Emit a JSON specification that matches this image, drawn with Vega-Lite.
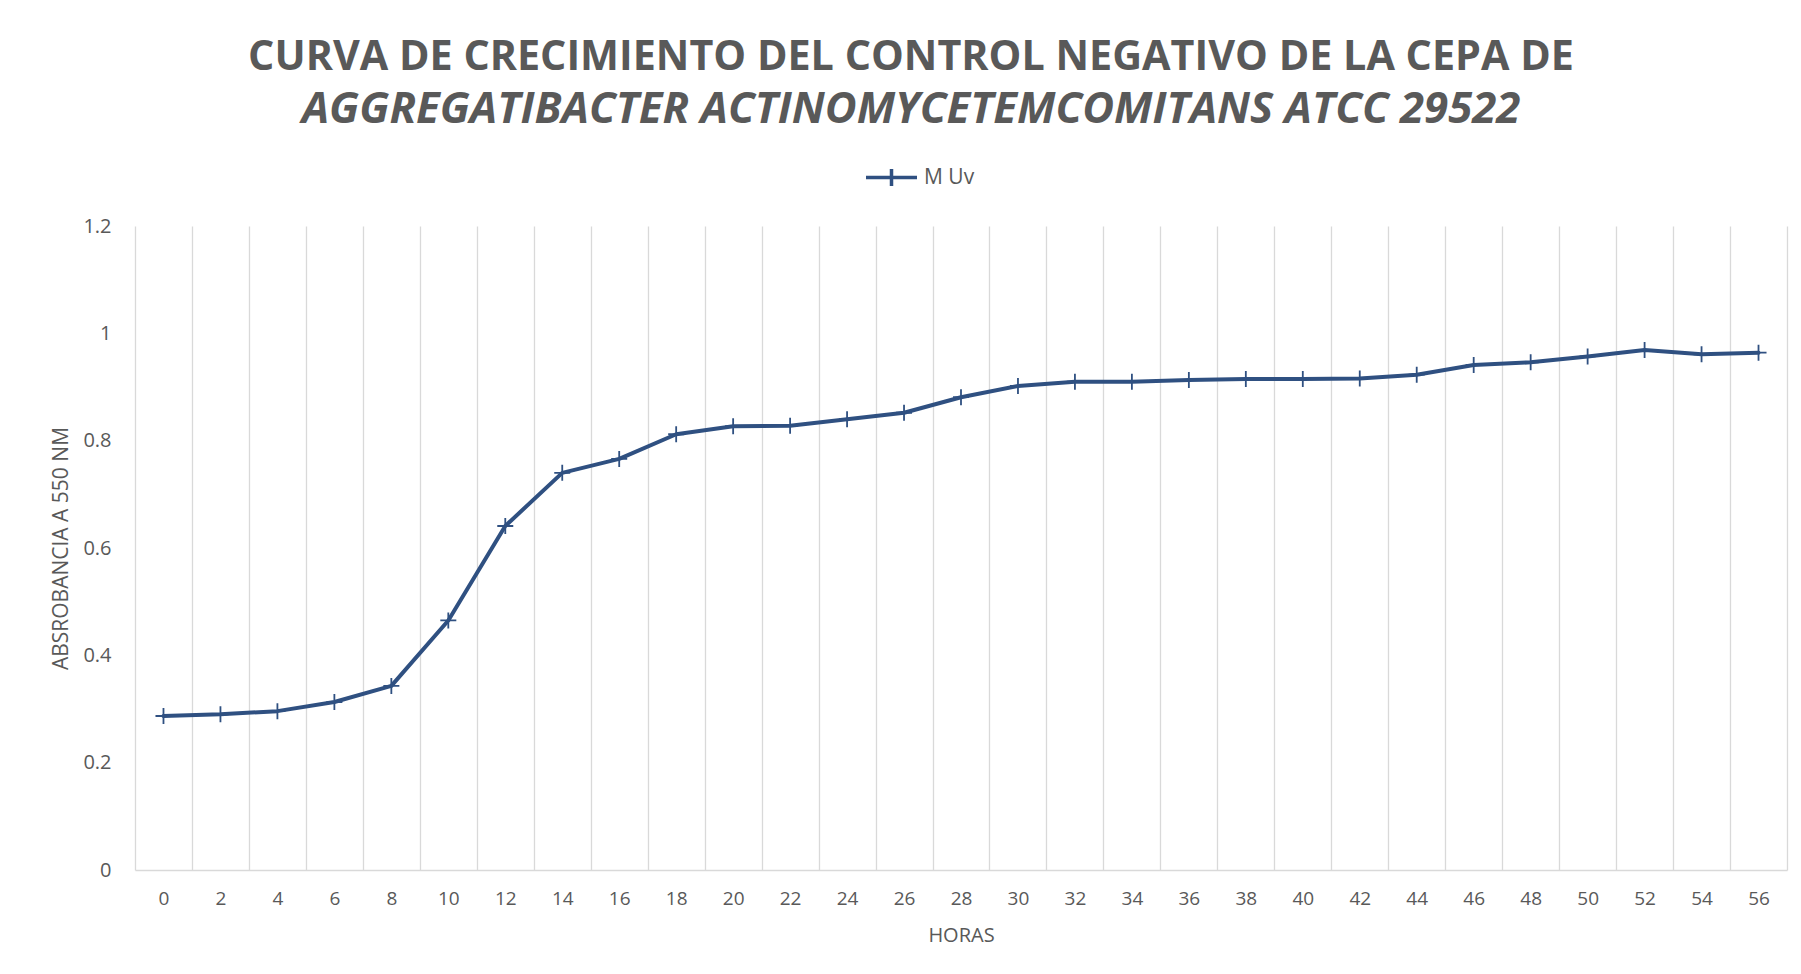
{
  "$schema": "https://vega.github.io/schema/vega-lite/v6.json",
  "width": 1652,
  "height": 644,
  "autosize": {"type": "none"},
  "padding": {"left": 135, "top": 226, "right": 14, "bottom": 104},
  "background": "white",
  "title": {
    "text": "CURVA DE CRECIMIENTO DEL CONTROL NEGATIVO DE LA CEPA DE",
    "subtitle": "AGGREGATIBACTER ACTINOMYCETEMCOMITANS ATCC 29522",
    "font": "Open Sans",
    "fontSize": 41.3,
    "fontWeight": "bold",
    "color": "#595959",
    "subtitleFont": "Open Sans",
    "subtitleFontSize": 43.7,
    "subtitleFontWeight": "bold",
    "subtitleFontStyle": "italic",
    "subtitleColor": "#595959",
    "subtitlePadding": 10,
    "anchor": "middle",
    "frame": "group",
    "offset": 18,
    "dx": -50
  },
  "data": {
    "values": [
      {"horas": 0, "abs": 0.287, "serie": "M Uv"},
      {"horas": 2, "abs": 0.290, "serie": "M Uv"},
      {"horas": 4, "abs": 0.296, "serie": "M Uv"},
      {"horas": 6, "abs": 0.313, "serie": "M Uv"},
      {"horas": 8, "abs": 0.343, "serie": "M Uv"},
      {"horas": 10, "abs": 0.465, "serie": "M Uv"},
      {"horas": 12, "abs": 0.641, "serie": "M Uv"},
      {"horas": 14, "abs": 0.740, "serie": "M Uv"},
      {"horas": 16, "abs": 0.766, "serie": "M Uv"},
      {"horas": 18, "abs": 0.812, "serie": "M Uv"},
      {"horas": 20, "abs": 0.827, "serie": "M Uv"},
      {"horas": 22, "abs": 0.828, "serie": "M Uv"},
      {"horas": 24, "abs": 0.840, "serie": "M Uv"},
      {"horas": 26, "abs": 0.852, "serie": "M Uv"},
      {"horas": 28, "abs": 0.881, "serie": "M Uv"},
      {"horas": 30, "abs": 0.902, "serie": "M Uv"},
      {"horas": 32, "abs": 0.910, "serie": "M Uv"},
      {"horas": 34, "abs": 0.910, "serie": "M Uv"},
      {"horas": 36, "abs": 0.913, "serie": "M Uv"},
      {"horas": 38, "abs": 0.915, "serie": "M Uv"},
      {"horas": 40, "abs": 0.915, "serie": "M Uv"},
      {"horas": 42, "abs": 0.916, "serie": "M Uv"},
      {"horas": 44, "abs": 0.923, "serie": "M Uv"},
      {"horas": 46, "abs": 0.941, "serie": "M Uv"},
      {"horas": 48, "abs": 0.946, "serie": "M Uv"},
      {"horas": 50, "abs": 0.957, "serie": "M Uv"},
      {"horas": 52, "abs": 0.969, "serie": "M Uv"},
      {"horas": 54, "abs": 0.961, "serie": "M Uv"},
      {"horas": 56, "abs": 0.964, "serie": "M Uv"}
    ]
  },
  "resolve": {"axis": {"x": "independent"}},
  "layer": [
    {
      "mark": {"type": "point", "shape": "M-1,0L1,0M0,-1L0,1", "filled": false, "size": 256, "strokeWidth": 1.8, "color": "#2F5081", "opacity": 0},
      "encoding": {
        "x": {
          "field": "horas",
          "type": "quantitative",
          "scale": {"domain": [-1, 57], "nice": false, "zero": false},
          "axis": {
            "orient": "bottom",
            "values": [-1,1,3,5,7,9,11,13,15,17,19,21,23,25,27,29,31,33,35,37,39,41,43,45,47,49,51,53,55,57],
            "grid": true,
            "gridColor": "#d9d9d9",
            "gridWidth": 1.3,
            "labels": false,
            "ticks": false,
            "domain": false,
            "title": null
          }
        },
        "y": {"field": "abs", "type": "quantitative"}
      }
    },
    {
      "mark": {"type": "line", "strokeWidth": 4, "strokeCap": "round", "strokeJoin": "round"},
      "encoding": {
        "x": {
          "field": "horas",
          "type": "quantitative",
          "axis": {
            "orient": "bottom",
            "values": [0,2,4,6,8,10,12,14,16,18,20,22,24,26,28,30,32,34,36,38,40,42,44,46,48,50,52,54,56],
            "grid": false,
            "ticks": false,
            "domain": true,
            "domainColor": "#d9d9d9",
            "domainWidth": 1.5,
            "labelFont": "Open Sans",
            "labelFontSize": 19,
            "labelColor": "#595959",
            "labelPadding": 19.5,
            "title": "HORAS",
            "titleFont": "Open Sans",
            "titleFontSize": 20,
            "titleFontWeight": "normal",
            "titleColor": "#595959",
            "titlePadding": 16.5
          }
        },
        "y": {
          "field": "abs",
          "type": "quantitative",
          "scale": {"domain": [0, 1.2], "nice": false},
          "axis": {
            "values": [0, 0.2, 0.4, 0.6, 0.8, 1, 1.2],
            "format": "~g",
            "grid": false,
            "domain": false,
            "ticks": false,
            "labelFont": "Open Sans",
            "labelFontSize": 20,
            "labelColor": "#595959",
            "labelPadding": 24,
            "title": "ABSROBANCIA A 550 NM",
            "titleFont": "Open Sans",
            "titleFontSize": 21,
            "titleFontWeight": "normal",
            "titleColor": "#595959",
            "titlePadding": 11
          }
        },
        "color": {
          "field": "serie",
          "type": "nominal",
          "scale": {"range": ["#2F5081"]},
          "legend": {
            "title": null,
            "orient": "none",
            "legendX": 729,
            "legendY": -76,
            "padding": 0,
            "symbolType": "M-1,0L1,0M0,-0.33L0,0.33",
            "symbolSize": 2601,
            "symbolStrokeWidth": 3.5,
            "labelFont": "Open Sans",
            "labelFontSize": 21,
            "labelColor": "#595959",
            "labelOffset": 5
          }
        }
      }
    },
    {
      "mark": {"type": "point", "shape": "M-1,0L1,0M0,-1L0,1", "filled": false, "size": 256, "strokeWidth": 1.8, "color": "#2F5081", "opacity": 1},
      "encoding": {
        "x": {"field": "horas", "type": "quantitative", "axis": null},
        "y": {"field": "abs", "type": "quantitative"}
      }
    }
  ],
  "config": {
    "font": "Open Sans",
    "view": {"stroke": null}
  }
}
